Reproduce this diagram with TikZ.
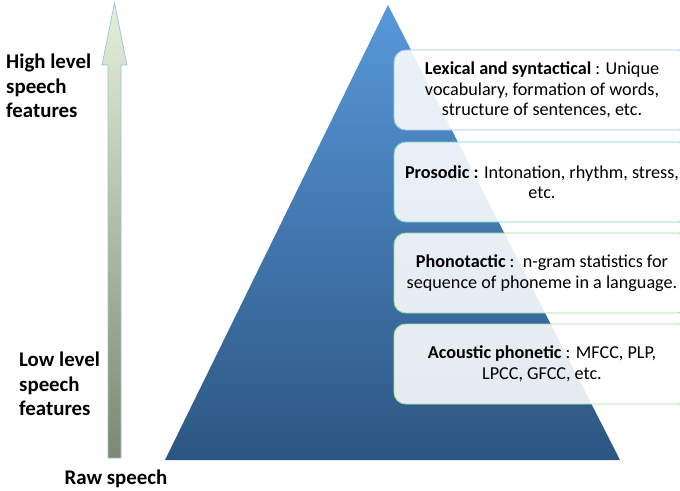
\documentclass[tikz,border=0pt]{standalone}
\usepackage{fontspec}
\setmainfont{Carlito}
\usetikzlibrary{positioning}

\begin{document}
\begin{tikzpicture}[x=0.03cm, y=-0.03cm]
  % Define colors
  \definecolor{pyrtop}{RGB}{88,152,218}
  \definecolor{pyrbot}{RGB}{44,86,130}
  \definecolor{arrtop}{RGB}{228,240,218}
  \definecolor{arrbot}{RGB}{124,136,114}
  \definecolor{arredge}{RGB}{160,190,225}
  \definecolor{edgeblue}{RGB}{160,196,232}
  \definecolor{edgeteal}{RGB}{120,214,190}
  \definecolor{edgegreen}{RGB}{150,222,150}
  \definecolor{edgelgreen}{RGB}{170,222,160}

  \tikzset{
    featbox/.style={rounded corners=10, fill=white, fill opacity=0.88, text opacity=1,
      line width=0.8pt, minimum width=8.88cm, minimum height=2.4cm, align=center,
      font=\fontsize{15.5}{17.6}\selectfont},
    sidelabel/.style={anchor=north west, align=left, inner sep=0pt,
      font=\fontsize{17.8}{20.8}\selectfont\bfseries}
  }

  \useasboundingbox (0,0) rectangle (680,490);
  \clip (0,0) rectangle (680,490);

  % Pyramid
  \shade[top color=pyrtop, bottom color=pyrbot] (388,5) -- (620,460) -- (165,460) -- cycle;

  % Arrow from raw speech to high level features
  \shade[top color=arrtop, bottom color=arrbot, draw=arredge, line width=0.6pt]
    (108,458) -- (108,65) -- (102,65) -- (114.5,3) -- (127,65) -- (121,65) -- (121,458) -- cycle;

  % Side labels
  \node[sidelabel] (high) at (6,54) {High level\\speech\\features};
  \node[sidelabel] (low) at (19,352) {Low level\\speech\\features};
  \node[font=\fontsize{17.8}{20.8}\selectfont\bfseries] (raw) at (116,479) {Raw speech};

  % Feature boxes
  \node[featbox, draw=edgeblue] (lex) at (542,90)
    {\textbf{Lexical and syntactical} : Unique\\vocabulary, formation of words,\\structure of sentences, etc.};
  \node[featbox, draw=edgeteal] (pros) at (542,182)
    {\textbf{Prosodic :} Intonation, rhythm, stress,\\etc.};
  \node[featbox, draw=edgegreen] (phono) at (542,273)
    {\textbf{Phonotactic} :\ \ n-gram statistics for\\sequence of phoneme in a language.};
  \node[featbox, draw=edgelgreen] (acou) at (542,364)
    {\textbf{Acoustic phonetic} : MFCC, PLP,\\LPCC, GFCC, etc.};

\end{tikzpicture}
\end{document}
